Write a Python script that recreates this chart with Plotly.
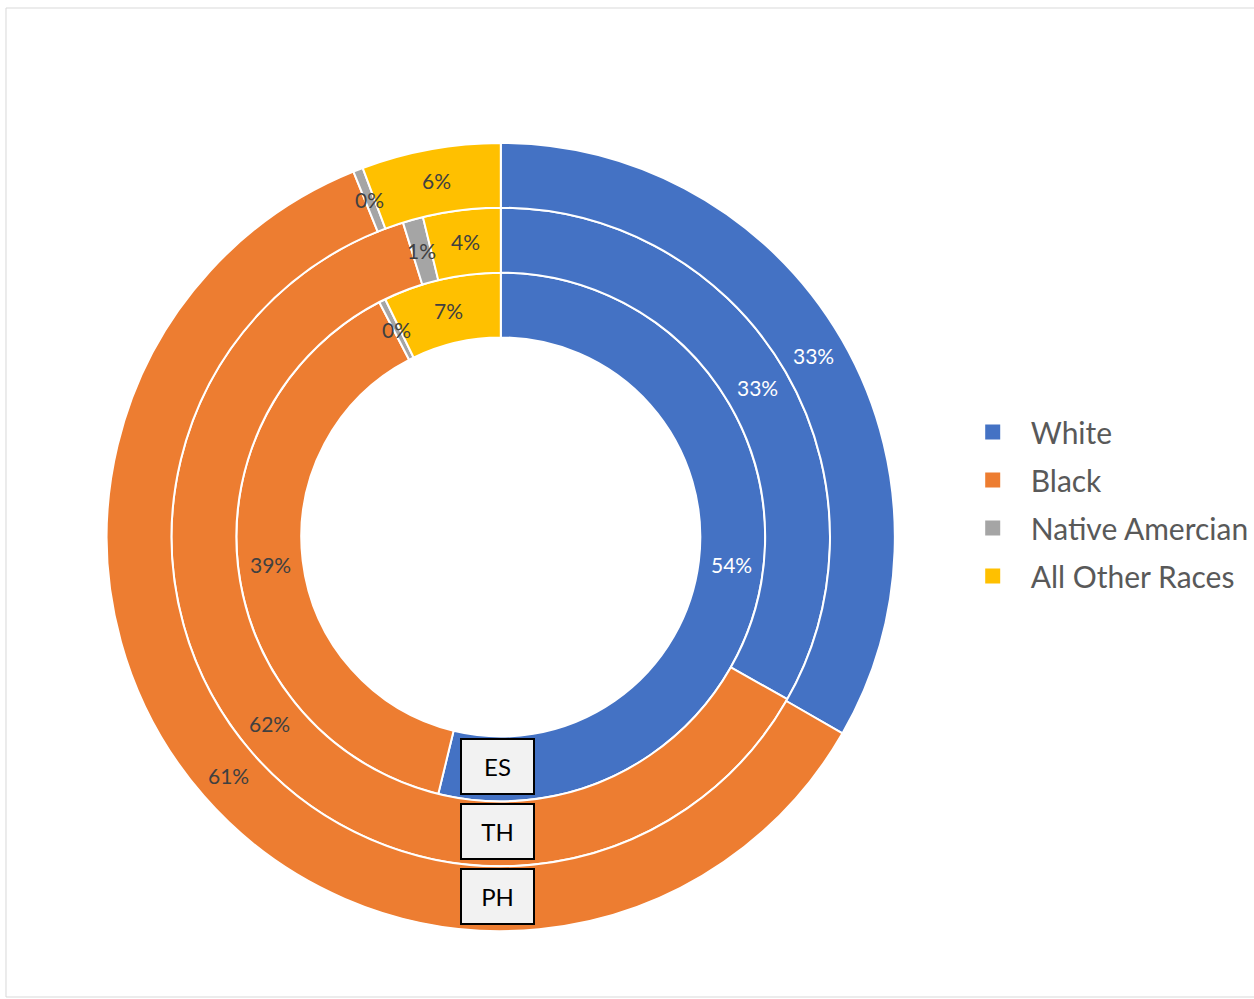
import math
import plotly.graph_objects as go

# ---- data ----
races = ["White", "Black", "Native Amercian", "All Other Races"]
rings = ["ES", "TH", "PH"]          # inner -> outer
es_values = [53.8, 38.6, 0.4, 7.2]
th_values = [33.2, 62.0, 1.0, 3.8]
ph_values = [33.3, 60.6, 0.4, 5.7]
ring_values = [es_values, th_values, ph_values]

colors = ["#4472C4", "#ED7D31", "#A5A5A5", "#FFC000"]
label_colors = ["#FFFFFF", "#404040", "#404040", "#404040"]

W, H = 1254, 999
CX, CY = 502, 537                     # pixel center
ring_outer = [265, 330, 395]
ring_inner = [200, 265, 330]
FONT = "Lato, Open Sans, sans-serif"

fig = go.Figure()
annotations = []

for i, (name, vals) in enumerate(zip(rings, ring_values)):
    ro, ri = ring_outer[i], ring_inner[i]
    dom_x = [(CX - ro) / W, (CX + ro) / W]
    dom_y = [1 - (CY + ro) / H, 1 - (CY - ro) / H]
    fig.add_trace(go.Pie(
        labels=races, values=vals, name=name,
        hole=ri / ro, sort=False, direction="clockwise", rotation=0,
        marker=dict(colors=colors, line=dict(color="white", width=2)),
        textinfo="none", hoverinfo="label+percent+name",
        domain=dict(x=dom_x, y=dom_y),
        showlegend=False,
    ))
    total = sum(vals)
    cum = 0.0
    rm = (ro + ri) / 2
    for v, lc in zip(vals, label_colors):
        mid = (cum + v / 2) / total * 2 * math.pi
        cum += v
        px = CX + rm * math.sin(mid)
        py = CY - rm * math.cos(mid)
        annotations.append(dict(
            x=px / W, y=1 - py / H, xref="paper", yref="paper",
            xanchor="center", yanchor="middle",
            text=f"{round(v / total * 100)}%", showarrow=False,
            font=dict(size=21, color=lc, family=FONT),
        ))
    annotations.append(dict(
        x=(CX - 3) / W, y=1 - (CY + rm - 3) / H, xref="paper", yref="paper",
        xanchor="center", yanchor="middle",
        text=name, showarrow=False, width=71, height=53,
        bgcolor="#F2F2F2", bordercolor="#000000", borderwidth=2, borderpad=0,
        font=dict(size=24, color="#000000", family=FONT),
    ))

# legend entries (one per race)
for k, (race, col) in enumerate(zip(races, colors)):
    fig.add_trace(go.Scatter(
        x=[None], y=[None], mode="markers", name=race,
        marker=dict(symbol="square", size=15, color=col),
        legendgroup=race, showlegend=True, hoverinfo="skip",
    ))

fig.update_layout(
    width=W, height=H,
    margin=dict(l=0, r=0, t=0, b=0),
    paper_bgcolor="white", plot_bgcolor="white",
    xaxis=dict(visible=False), yaxis=dict(visible=False),
    annotations=annotations,
    legend=dict(
        x=957 / W, y=1 - 406 / H, xanchor="left", yanchor="top",
        font=dict(size=30, color="#595959", family=FONT),
        itemwidth=66, tracegroupgap=6, bgcolor="rgba(0,0,0,0)",
    ),
    shapes=[dict(type="rect", xref="paper", yref="paper",
                 x0=6 / W, x1=1.01, y0=2 / H, y1=1 - 8 / H,
                 line=dict(color="#D9D9D9", width=1))],
)

fig.write_html("out.html", config={"displayModeBar": False},
               post_script="document.body.style.margin='0px';")
